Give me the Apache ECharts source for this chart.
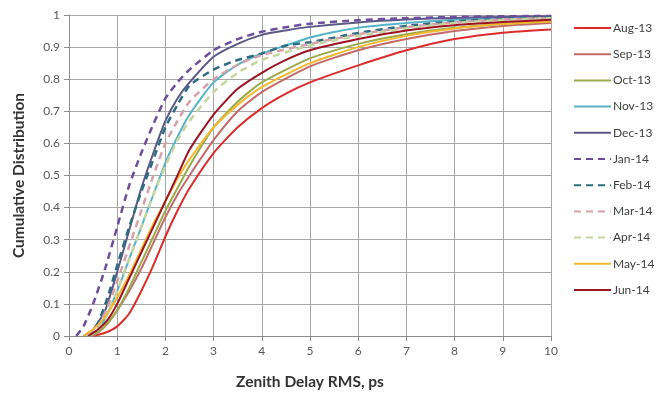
<!DOCTYPE html>
<html>
<head>
<meta charset="utf-8">
<script src="https://cdn.jsdelivr.net/npm/echarts@6/dist/echarts.min.js"></script>
<style>
  html, body { margin: 0; padding: 0; background: #fff; }
  #chart { width: 664px; height: 398px; }
</style>
</head>
<body>
<div id="chart"></div>
<script>
// months shown in the legend, in order
const months = ["Aug-13", "Sep-13", "Oct-13", "Nov-13", "Dec-13", "Jan-14",
  "Feb-14", "Mar-14", "Apr-14", "May-14", "Jun-14"];

// [rms ps, cumulative fraction]
const aug13 = [[0.5,0],[0.75,0.01],[1,0.03],[1.25,0.07],[1.5,0.14],[1.75,0.22],[2,0.31],[2.25,0.39],[2.5,0.46],[3,0.57],[3.5,0.65],[4,0.71],[4.5,0.755],[5,0.79],[6,0.843],[7,0.89],[8,0.925],[9,0.945],[10,0.955]];
const sep13 = [[0.5,0],[0.75,0.03],[1,0.08],[1.25,0.14],[1.5,0.21],[1.75,0.29],[2,0.37],[2.25,0.44],[2.5,0.5],[3,0.61],[3.5,0.7],[4,0.76],[5,0.84],[6,0.89],[7,0.925],[8,0.95],[9,0.966],[10,0.975]];
const oct13 = [[0.4,0],[0.6,0.01],[0.8,0.04],[1,0.08],[1.25,0.15],[1.5,0.23],[1.75,0.31],[2,0.39],[2.25,0.46],[2.5,0.53],[3,0.65],[3.5,0.73],[4,0.79],[5,0.865],[6,0.91],[7,0.94],[8,0.96],[9,0.972],[10,0.98]];
const nov13 = [[0.4,0],[0.6,0.02],[0.8,0.07],[1,0.14],[1.25,0.24],[1.5,0.34],[1.75,0.44],[2,0.54],[2.25,0.62],[2.5,0.69],[3,0.79],[3.5,0.845],[4,0.88],[4.5,0.905],[5,0.93],[6,0.96],[7,0.975],[8,0.985],[9,0.99],[10,0.994]];
const dec13 = [[0.3,0],[0.5,0.02],[0.75,0.08],[1,0.2],[1.25,0.33],[1.5,0.46],[1.75,0.57],[2,0.67],[2.25,0.74],[2.5,0.79],[3,0.87],[3.5,0.91],[4,0.938],[4.5,0.952],[5,0.963],[6,0.977],[7,0.986],[8,0.991],[9,0.994],[10,0.996]];
const jan14 = [[0.15,0],[0.3,0.03],[0.5,0.1],[0.75,0.21],[1,0.34],[1.25,0.47],[1.5,0.57],[1.75,0.66],[2,0.74],[2.25,0.79],[2.5,0.83],[3,0.89],[3.5,0.925],[4,0.948],[4.5,0.962],[5,0.973],[6,0.984],[7,0.99],[8,0.994],[9,0.996],[10,0.997]];
const feb14 = [[0.4,0],[0.6,0.04],[0.8,0.12],[1,0.22],[1.25,0.34],[1.5,0.45],[1.75,0.55],[2,0.65],[2.25,0.72],[2.5,0.78],[3,0.83],[3.5,0.86],[4,0.88],[4.5,0.905],[5,0.915],[6,0.944],[7,0.966],[8,0.98],[9,0.988],[10,0.993]];
const mar14 = [[0.4,0],[0.6,0.03],[0.8,0.09],[1,0.17],[1.25,0.28],[1.5,0.39],[1.75,0.5],[2,0.6],[2.25,0.67],[2.5,0.73],[3,0.8],[3.5,0.845],[4,0.875],[5,0.91],[6,0.94],[7,0.962],[8,0.977],[9,0.986],[10,0.99]];
const apr14 = [[0.4,0],[0.6,0.02],[0.8,0.07],[1,0.14],[1.25,0.24],[1.5,0.34],[1.75,0.44],[2,0.53],[2.25,0.61],[2.5,0.67],[3,0.76],[3.5,0.82],[4,0.86],[5,0.905],[6,0.935],[7,0.958],[8,0.975],[9,0.985],[10,0.99]];
const may14 = [[0.3,0],[0.5,0.02],[0.75,0.06],[1,0.12],[1.25,0.19],[1.5,0.27],[1.75,0.35],[2,0.42],[2.25,0.49],[2.5,0.55],[3,0.65],[3.5,0.72],[4,0.775],[5,0.85],[6,0.9],[7,0.935],[8,0.958],[9,0.972],[10,0.98]];
const jun14 = [[0.4,0],[0.6,0.02],[0.8,0.05],[1,0.1],[1.25,0.18],[1.5,0.26],[1.75,0.34],[2,0.42],[2.25,0.5],[2.5,0.58],[3,0.69],[3.5,0.77],[4,0.82],[4.5,0.86],[5,0.89],[6,0.925],[7,0.952],[8,0.968],[9,0.978],[10,0.985]];

const seriesData = [aug13, sep13, oct13, nov13, dec13, jan14, feb14, mar14, apr14, may14, jun14];

const lineColors = ["#dc2c2c", "#c46a6a", "#9aab4a", "#56b4c8", "#5b5888", "#6e4c9e",
  "#2d6d80", "#d4a0aa", "#c5d59e", "#f2b82e", "#9c1424"];
const dashed = [false, false, false, false, false, true, true, true, true, false, false];

const chart = echarts.init(document.getElementById("chart"), undefined, { renderer: "canvas" });

const font = "Lato, 'Open Sans', sans-serif";

const option = {
  backgroundColor: "#fff",
  animation: false,
  grid: { left: 69, right: 113, top: 15, bottom: 62 },
  legend: {
    orient: "vertical",
    left: 568,
    top: 17,
    itemWidth: 37,
    itemHeight: 14,
    itemGap: 14.2,
    data: months,
    itemStyle: { opacity: 0 },
    textStyle: { color: "#404040", fontSize: 12, fontFamily: font, padding: [0, 0, 0, -3] },
  },
  xAxis: {
    type: "value",
    min: 0,
    max: 10,
    interval: 1,
    name: "Zenith Delay RMS, ps",
    nameLocation: "middle",
    nameGap: 38,
    nameTextStyle: { color: "#333", fontSize: 15.5, fontWeight: "bold", fontFamily: font },
    axisLine: { show: true, lineStyle: { color: "#8c8c8c" } },
    axisTick: { show: true, length: 5, lineStyle: { color: "#8c8c8c" } },
    axisLabel: { color: "#595959", fontSize: 12, fontFamily: font, margin: 9 },
    splitLine: { show: true, lineStyle: { color: "#a6a6a6", width: 1 } },
  },
  yAxis: {
    type: "value",
    min: 0,
    max: 1,
    interval: 0.1,
    name: "Cumulative Distribution",
    nameLocation: "middle",
    nameGap: 42,
    nameTextStyle: { color: "#333", fontSize: 15.5, fontWeight: "bold", fontFamily: font },
    axisLine: { show: true, lineStyle: { color: "#8c8c8c" } },
    axisTick: { show: true, length: 5, lineStyle: { color: "#8c8c8c" } },
    axisLabel: { color: "#595959", fontSize: 12, fontFamily: font, margin: 9 },
    splitLine: { show: true, lineStyle: { color: "#a6a6a6", width: 1 } },
  },
  series: months.map((name, i) => ({
    name,
    type: "line",
    data: seriesData[i],
    showSymbol: false,
    symbol: "none",
    smooth: 0.2,
    color: lineColors[i],
    lineStyle: {
      color: lineColors[i],
      width: dashed[i] ? 2.5 : 2,
      type: dashed[i] ? [7, 5] : "solid",
    },
  })),
};

chart.setOption(option);
</script>
</body>
</html>
